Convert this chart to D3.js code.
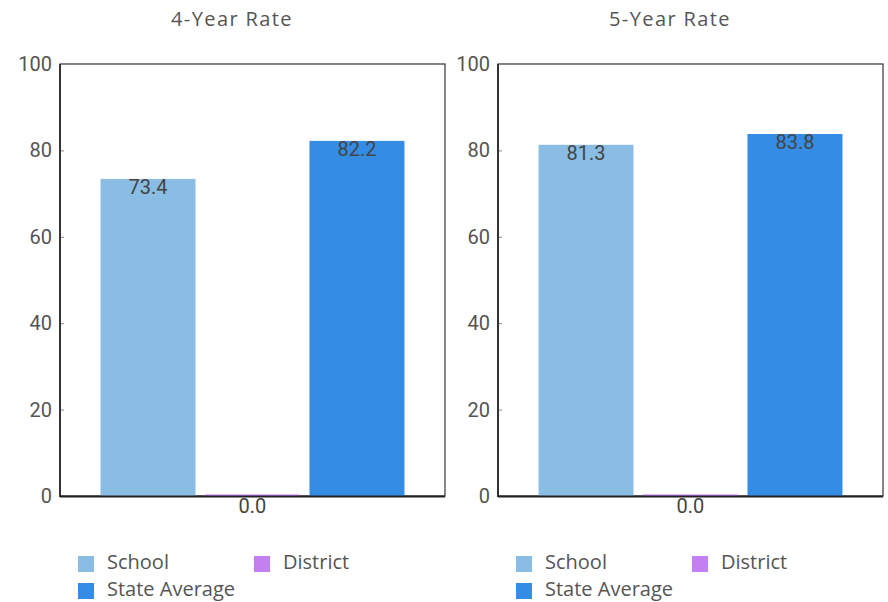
<!DOCTYPE html>
<html>
<head>
<meta charset="utf-8">
<script src="https://cdn.jsdelivr.net/npm/d3@7"></script>
<style>
  html, body { margin: 0; padding: 0; background: #fff; }
  svg { display: block; }
</style>
</head>
<body>
<svg id="chart" width="888" height="602"></svg>
<script>
// ---- data ----
const panelTitles = ["4-Year Rate", "5-Year Rate"];
const seriesNames = ["School", "District", "State Average"];
const seriesColors = ["#8abde3", "#c47ff0", "#348ce4"];
const rate4Year = [73.4, 0.0, 82.2];
const rate5Year = [81.3, 0.0, 83.8];
const yTicks = [0, 20, 40, 60, 80, 100];

const panelValues = [rate4Year, rate5Year];

const svg = d3.select("#chart");
const panelOffset = 438;
const plot = { left: 60, right: 445, top: 64, bottom: 496 };

const y = d3.scaleLinear().domain([0, 100]).range([plot.bottom, plot.top]);
const x = d3.scaleBand().domain(seriesNames)
  .range([plot.left, plot.right]).paddingInner(0.091).paddingOuter(0.388);

const numFont = "Roboto, 'Open Sans', sans-serif";
const txtFont = "'Open Sans', 'DejaVu Sans', sans-serif";

panelTitles.forEach((title, pi) => {
  const vals = panelValues[pi];
  const g = svg.append("g").attr("transform", `translate(${pi * panelOffset},0)`);

  g.append("text")
    .attr("x", 232).attr("y", 26)
    .attr("text-anchor", "middle")
    .attr("font-family", txtFont).attr("font-size", 20)
    .attr("letter-spacing", 1.4)
    .attr("fill", "#555")
    .text(title);

  // frame (top & right)
  g.append("rect")
    .attr("x", plot.left).attr("y", plot.top)
    .attr("width", plot.right - plot.left).attr("height", plot.bottom - plot.top)
    .attr("fill", "none").attr("stroke", "#333").attr("stroke-width", 1.2);

  // bars
  const data = seriesNames.map((s, i) => ({ s, v: vals[i], c: seriesColors[i] }));
  g.selectAll("rect.bar").data(data).join("rect")
    .attr("class", "bar")
    .attr("x", d => x(d.s))
    .attr("width", x.bandwidth())
    .attr("y", d => Math.min(y(d.v), y(0) - 1.5))
    .attr("height", d => Math.max(y(0) - y(d.v), 1.5))
    .attr("fill", d => d.c);

  // y axis
  const ax = g.append("g").attr("transform", `translate(${plot.left},0)`)
    .call(d3.axisLeft(y).tickValues(yTicks).tickSize(-4).tickPadding(8).tickFormat(d3.format("d")));
  ax.select(".domain").remove();
  ax.selectAll(".tick line").attr("stroke", "#888");
  ax.selectAll(".tick text")
    .attr("font-family", numFont).attr("font-size", 20).attr("fill", "#555");

  // axis lines
  g.append("line").attr("x1", plot.left).attr("x2", plot.left)
    .attr("y1", plot.top).attr("y2", plot.bottom + 1)
    .attr("stroke", "#333").attr("stroke-width", 2);
  g.append("line").attr("x1", plot.left).attr("x2", plot.right)
    .attr("y1", plot.bottom + 0.5).attr("y2", plot.bottom + 0.5)
    .attr("stroke", "#222").attr("stroke-width", 2);

  // value labels
  g.selectAll("text.val").data(data).join("text")
    .attr("class", "val")
    .attr("x", d => x(d.s) + x.bandwidth() / 2)
    .attr("y", d => d.v > 5 ? y(d.v) + 15.5 : y(0) + 17)
    .attr("text-anchor", "middle")
    .attr("font-family", numFont).attr("font-size", 20)
    .attr("fill", "#444")
    .text(d => d3.format(".1f")(d.v));

  // legend
  const legPos = [[78, 556], [254, 556], [78, 583]];
  seriesNames.forEach((s, i) => {
    const [lx, ly] = legPos[i];
    g.append("rect").attr("x", lx).attr("y", ly).attr("width", 16).attr("height", 16)
      .attr("fill", seriesColors[i]);
    g.append("text").attr("x", lx + 29).attr("y", ly + 13)
      .attr("font-family", txtFont).attr("font-size", 20).attr("fill", "#555")
      .text(s);
  });
});
</script>
</body>
</html>
